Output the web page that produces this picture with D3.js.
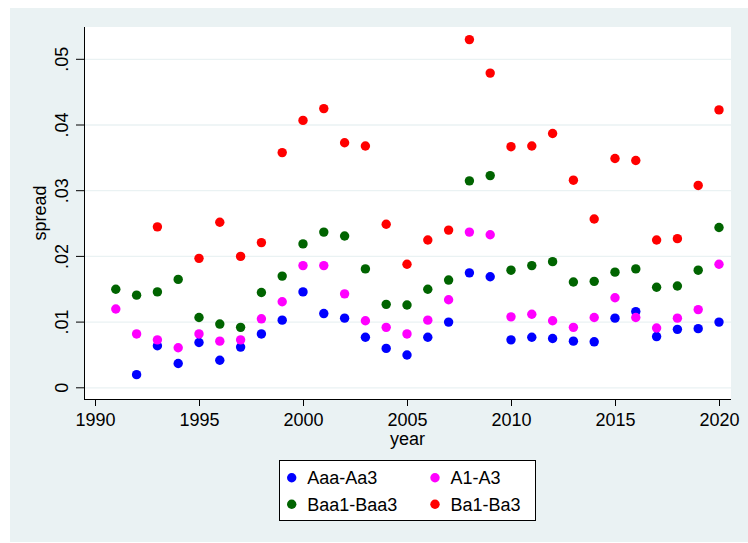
<!DOCTYPE html>
<html>
<head>
<meta charset="utf-8">
<script src="https://d3js.org/d3.v7.min.js"></script>
<style>
  body { margin: 0; background: #fff; }
  text { font-family: "Liberation Sans", Arial, Helvetica, sans-serif; fill: #000; }
</style>
</head>
<body>
<div id="chart"></div>
<script>
// data
var years = d3.range(1991, 2021);
var seriesNames = ["Aaa-Aa3", "A1-A3", "Baa1-Baa3", "Ba1-Ba3"];
var seriesColors = ["#0000ff", "#ff00ff", "#006400", "#ff0000"];

// null = no point that year (1991..2020)
var aaa = [null, .0020, .0064, .0037, .0069, .0042, .0062, .0082, .0103, .0146,
           .0113, .0106, .0077, .0060, .0050, .0077, .0100, .0175, .0169, .0073,
           .0077, .0075, .0071, .0070, .0106, .0116, .0078, .0089, .0090, .0100];
var a1 = [.0120, .0082, .0073, .0061, .0082, .0071, .0073, .0105, .0131, .0186,
          .0186, .0143, .0102, .0092, .0082, .0103, .0134, .0237, .0233, .0108,
          .0112, .0102, .0092, .0107, .0137, .0107, .0091, .0106, .0119, .0188];
var baa = [.0150, .0141, .0146, .0165, .0107, .0097, .0092, .0145, .0170, .0219,
           .0237, .0231, .0181, .0127, .0126, .0150, .0164, .0315, .0323, .0179,
           .0186, .0192, .0161, .0162, .0176, .0181, .0153, .0155, .0179, .0244];
var ba = [null, null, .0245, null, .0197, .0252, .0200, .0221, .0358, .0407,
          .0425, .0373, .0368, .0249, .0188, .0225, .0240, .0530, .0479, .0367,
          .0368, .0387, .0316, .0257, .0349, .0346, .0225, .0227, .0308, .0423];
var series = [aaa, a1, baa, ba];

var yTicks = [0, .01, .02, .03, .04, .05];
var yTickLabels = ["0", ".01", ".02", ".03", ".04", ".05"];
var xTicks = [1990, 1995, 2000, 2005, 2010, 2015, 2020];

var W = 748, H = 543;
var plot = { left: 84, right: 731, top: 27, bottom: 399 };
var fs = 18;

var svg = d3.select("#chart").append("svg")
    .attr("width", W)
    .attr("height", H);

// outer graph region
svg.append("rect")
    .attr("x", 10).attr("y", 8)
    .attr("width", W - 10).attr("height", H - 9)
    .attr("fill", "#eaf2f3");

svg.append("rect")
    .attr("x", plot.left).attr("y", plot.top)
    .attr("width", plot.right - plot.left).attr("height", plot.bottom - plot.top)
    .attr("fill", "#fff");

var x = d3.scaleLinear().domain([1990, 2020]).range([95, 719]);
var y = d3.scaleLinear().domain([0, .05]).range([387.8, 59.3]);

// gridlines
svg.append("g").selectAll("line")
    .data(yTicks)
    .enter().append("line")
    .attr("x1", plot.left).attr("x2", plot.right)
    .attr("y1", function(d) { return y(d); })
    .attr("y2", function(d) { return y(d); })
    .attr("stroke", "#eaf2f3")
    .attr("stroke-width", 1.3);

// y axis
var yAxis = svg.append("g")
    .attr("transform", "translate(" + plot.left + ",0)")
    .call(d3.axisLeft(y).tickValues(yTicks)
        .tickFormat(function(d, i) { return yTickLabels[i]; })
        .tickSize(8).tickSizeOuter(0));
yAxis.select(".domain").attr("d", "M0.5," + plot.top + "V" + plot.bottom);
yAxis.selectAll(".tick").attr("transform", "translate(0,0)");
yAxis.selectAll(".tick line")
    .attr("y1", function(d) { return y(d); })
    .attr("y2", function(d) { return y(d); });
yAxis.selectAll("text")
    .attr("font-size", fs)
    .attr("transform", "rotate(-90)")
    .attr("text-anchor", "middle")
    .attr("x", function(d) { return -y(d); })
    .attr("y", -16)
    .attr("dy", 0)
    .attr("dx", 0);

// x axis
var xAxis = svg.append("g")
    .attr("transform", "translate(0," + plot.bottom + ")")
    .call(d3.axisBottom(x).tickValues(xTicks).tickFormat(d3.format("d"))
        .tickSize(7).tickSizeOuter(0));
xAxis.select(".domain").attr("d", "M" + plot.left + ",0.5H" + plot.right);
xAxis.selectAll("text")
    .attr("font-size", fs)
    .attr("y", 26.5)
    .attr("dy", 0);

svg.selectAll(".domain, .tick line").attr("stroke", "#000");

// axis titles
svg.append("text")
    .attr("transform", "translate(46," + ((plot.top + plot.bottom) / 2) + ") rotate(-90)")
    .attr("text-anchor", "middle")
    .attr("font-size", fs)
    .text("spread");

svg.append("text")
    .attr("x", (plot.left + plot.right) / 2)
    .attr("y", 445)
    .attr("text-anchor", "middle")
    .attr("font-size", fs)
    .text("year");

// points
series.forEach(function(vals, i) {
    svg.append("g").selectAll("circle")
        .data(years.map(function(yr, j) { return { year: yr, v: vals[j] }; })
            .filter(function(d) { return d.v !== null; }))
        .enter().append("circle")
        .attr("cx", function(d) { return x(d.year); })
        .attr("cy", function(d) { return y(d.v); })
        .attr("r", 4.7)
        .attr("fill", seriesColors[i]);
});

// legend
var legend = svg.append("g");
legend.append("rect")
    .attr("x", 279.5).attr("y", 460.5)
    .attr("width", 256).attr("height", 60)
    .attr("fill", "#fff")
    .attr("stroke", "#000")
    .attr("stroke-width", 1);

var legX = [291.7, 435], legY = [477.7, 504.3];
seriesNames.forEach(function(name, i) {
    var cx = legX[i % 2], cy = legY[Math.floor(i / 2)];
    legend.append("circle")
        .attr("cx", cx).attr("cy", cy)
        .attr("r", 4.7)
        .attr("fill", seriesColors[i]);
    legend.append("text")
        .attr("x", cx + 15.5)
        .attr("y", cy + 6.5)
        .attr("font-size", fs)
        .text(name);
});
</script>
</body>
</html>
